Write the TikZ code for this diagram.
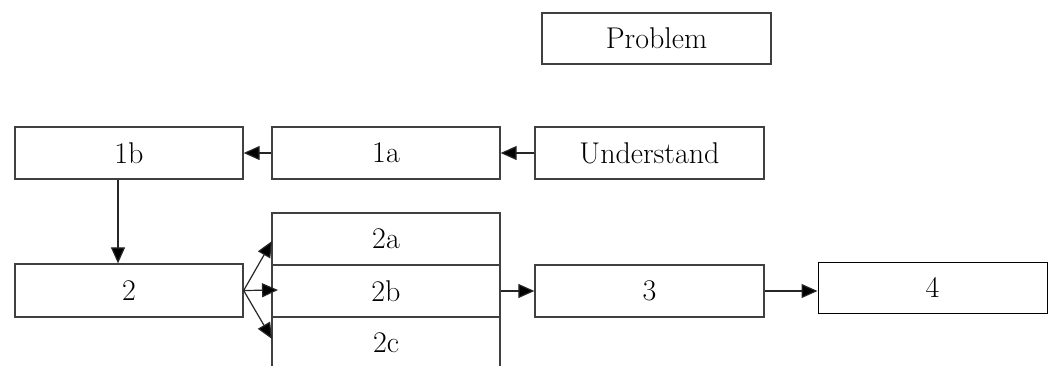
\documentclass[tikz,border=0pt]{standalone}
\usetikzlibrary{arrows.meta}
\begin{document}
\begin{tikzpicture}[x=1pt,y=-1pt,
  box/.style={draw=black!75,line width=1.3pt,fill=white,minimum width=229pt,minimum height=52pt,inner sep=0pt,font=\fontsize{30}{33}\selectfont},
  conn/.style={draw=black!85,line width=1.2pt,-{Triangle[length=16pt,width=14pt,fill=black]}}]
\useasboundingbox (0,0) rectangle (1052,365);
\clip (0,0) rectangle (1052,365);
\node[box,minimum height=51pt] (prob) at (656.5,38.5) {Problem};
\node[box] (u) at (649.5,153) {Understand};
\node[box,minimum width=228pt] (1a) at (386,153) {1a};
\node[box,minimum width=228pt] (1b) at (129,153) {1b};
\node[box,minimum width=228pt,minimum height=53pt] (2) at (129,290.5) {2};
\node[box,minimum width=228pt] (2a) at (386,239) {2a};
\node[box,minimum width=228pt] (2b) at (386,291) {2b};
\node[box,minimum width=228pt] (2c) at (386,343) {2c};
\node[box] (3) at (649.5,291) {3};
\node[box,draw=black,line width=1pt,minimum height=51pt] (4) at (932.5,287.5) {4};
\coordinate (t2a) at (272,241);
\coordinate (t2b) at (278,290);
\coordinate (t2c) at (272,339);
\draw[conn] (u.west) -- (1a.east);
\draw[conn] (1a.west) -- (1b.east);
\draw[conn] ([xshift=-11pt]1b.south) -- ([xshift=-11pt]2.north);
\draw[conn] (2.east) -- (t2a);
\draw[conn] (2.east) -- (t2b);
\draw[conn] (2.east) -- (t2c);
\draw[conn] (2b.east) -- (3.west);
\draw[conn] (3.east) -- (3.east -| 4.west);
\end{tikzpicture}
\end{document}
